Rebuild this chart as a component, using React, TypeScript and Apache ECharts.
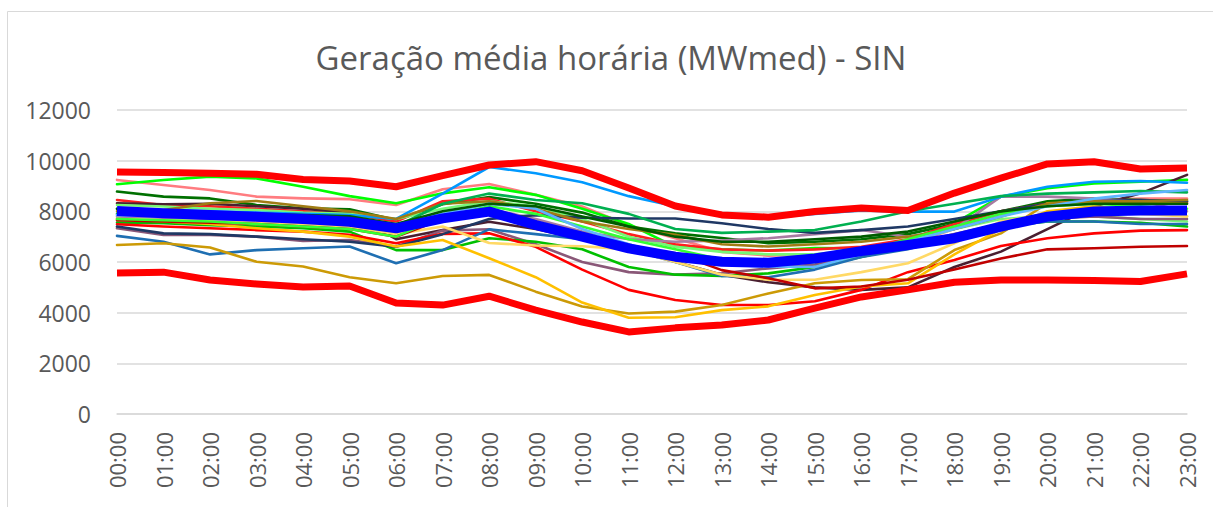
import React, { useEffect, useRef } from "react";
import * as echarts from "echarts";

const hours = [
  "00:00", "01:00", "02:00", "03:00", "04:00", "05:00", "06:00", "07:00",
  "08:00", "09:00", "10:00", "11:00", "12:00", "13:00", "14:00", "15:00",
  "16:00", "17:00", "18:00", "19:00", "20:00", "21:00", "22:00", "23:00",
];

const yTicks = { min: 0, max: 12000, step: 2000 };

const maxValues = [9550, 9530, 9500, 9460, 9260, 9200, 8970, 9410, 9830, 9960, 9600, 8920, 8210, 7860, 7770, 7990, 8130, 8030, 8720, 9310, 9870, 9960, 9670, 9710];
const minValues = [5570, 5600, 5290, 5130, 5010, 5050, 4380, 4300, 4650, 4100, 3630, 3240, 3400, 3510, 3710, 4180, 4620, 4900, 5200, 5290, 5290, 5270, 5230, 5530];
const meanValues = [8010, 7920, 7860, 7790, 7700, 7590, 7330, 7720, 7990, 7460, 7000, 6540, 6210, 6010, 5970, 6140, 6430, 6670, 6940, 7400, 7790, 7990, 8030, 8030];

const day01 = [9240, 9040, 8840, 8580, 8510, 8480, 8250, 8870, 9080, 8650, 8190, 7450, 6940, 6400, 6250, 6300, 6300, 6700, 7300, 7900, 8300, 8450, 8500, 8500];
const day02 = [9070, 9240, 9370, 9300, 8970, 8600, 8320, 8710, 8950, 8650, 8100, 7500, 6600, 6500, 6450, 6550, 6540, 6870, 7530, 8580, 8910, 9100, 9170, 9240];
const day03 = [8780, 8580, 8510, 8250, 8120, 8080, 7660, 8280, 8560, 8300, 7950, 7400, 7130, 6950, 6740, 6800, 6900, 7100, 7500, 8000, 8400, 8500, 8450, 8400];
const day04 = [8450, 8250, 8200, 8100, 8000, 7900, 7600, 8400, 8500, 8000, 7600, 7100, 6700, 6500, 6450, 6500, 6600, 6900, 7500, 8000, 8300, 8400, 8400, 8350];
const day05 = [8320, 8280, 8300, 8200, 8100, 7950, 6900, 7260, 7590, 7300, 6900, 6700, 6010, 5500, 5200, 5000, 4900, 5000, 5800, 6410, 7300, 8190, 8710, 9440];
const day06 = [8250, 8190, 8100, 8050, 7950, 7900, 7700, 8100, 8400, 8200, 7700, 7000, 6600, 6400, 6300, 6300, 6500, 6800, 7300, 7700, 7800, 7800, 7700, 7600];
const day07 = [7790, 7750, 7700, 7650, 7600, 7500, 7200, 7700, 8100, 7700, 7200, 6900, 6800, 6850, 6940, 7100, 7260, 7000, 7300, 8580, 8580, 8500, 8400, 8000];
const day08 = [7330, 7070, 7070, 7000, 6830, 6870, 6610, 7240, 7290, 6700, 6000, 5600, 5500, 5550, 5750, 5900, 6300, 6700, 7100, 7500, 7700, 7800, 7700, 7700];
const day09 = [7560, 7530, 7450, 7400, 7330, 7200, 6470, 6470, 6940, 6800, 6500, 5800, 5500, 5450, 5550, 5800, 6200, 6600, 7000, 7400, 7600, 7600, 7550, 7400];
const day10 = [7490, 7400, 7330, 7260, 7200, 7070, 6740, 7110, 7130, 6600, 5700, 4900, 4500, 4300, 4300, 4450, 4900, 5600, 6080, 6630, 6940, 7130, 7240, 7260];
const day11 = [7400, 7130, 7100, 7000, 6900, 6800, 6600, 7100, 7700, 7850, 7750, 7720, 7720, 7530, 7300, 7150, 7260, 7400, 7700, 8000, 8300, 8400, 8450, 8400];
const day12 = [7030, 6800, 6300, 6470, 6540, 6610, 5950, 6470, 7290, 7100, 6900, 6500, 6000, 5450, 5400, 5700, 6200, 6500, 7000, 7400, 7600, 7600, 7500, 7500];
const day13 = [6670, 6740, 6570, 6010, 5820, 5400, 5160, 5450, 5490, 4830, 4240, 3970, 4040, 4300, 4760, 5160, 5290, 5320, 6470, 7130, 8320, 8400, 8350, 8300];
const day14 = [7700, 7600, 7500, 7330, 7200, 7000, 6610, 6870, 6150, 5400, 4400, 3800, 3820, 4100, 4250, 4700, 5030, 5160, 6300, 7300, 8000, 8200, 8000, 7800];
const day15 = [7700, 7650, 7600, 7550, 7500, 7400, 7100, 7400, 6750, 6650, 6620, 6500, 6000, 5500, 5300, 5300, 5600, 5950, 6740, 7600, 7900, 8000, 7900, 7800];
const day16 = [8100, 8050, 8000, 7950, 7900, 7850, 7700, 8700, 9750, 9500, 9150, 8600, 8200, 7800, 7750, 7900, 8030, 7990, 7990, 8580, 8970, 9170, 9200, 9130];
const day17 = [7650, 7600, 7550, 7500, 7400, 7300, 7000, 7700, 8100, 7600, 7000, 6600, 6340, 5680, 5360, 4960, 5030, 5300, 5700, 6140, 6500, 6540, 6600, 6630];
const day18 = [8000, 8050, 8320, 8410, 8200, 8000, 7700, 8300, 8400, 8100, 7600, 7300, 7070, 6700, 6610, 6700, 6800, 7000, 7300, 7800, 8300, 8400, 8400, 8450];
const day19 = [7900, 7850, 7800, 7750, 7700, 7600, 7400, 8300, 8700, 8450, 8320, 7900, 7300, 7150, 7200, 7260, 7600, 8000, 8300, 8600, 8700, 8750, 8800, 8750];
const day20 = [7700, 7650, 7600, 7500, 7400, 7300, 7000, 7800, 8200, 7900, 7400, 6900, 6500, 6100, 5900, 6000, 6400, 6900, 7400, 7900, 8200, 8300, 8200, 8100];
const day21 = [7850, 7800, 7750, 7700, 7650, 7600, 7500, 7900, 8300, 8100, 7300, 6700, 6200, 5900, 5820, 5800, 6300, 6800, 7300, 7800, 8200, 8500, 8700, 8840];
const day22 = [8100, 8000, 7950, 7900, 7850, 7800, 7500, 8000, 8300, 8200, 7800, 7400, 7000, 6800, 6800, 6900, 7000, 7200, 7600, 8000, 8200, 8300, 8300, 8300];

const dayNames = [
  "Dia 01", "Dia 02", "Dia 03", "Dia 04", "Dia 05", "Dia 06", "Dia 07", "Dia 08",
  "Dia 09", "Dia 10", "Dia 11", "Dia 12", "Dia 13", "Dia 14", "Dia 15", "Dia 16",
  "Dia 17", "Dia 18", "Dia 19", "Dia 20", "Dia 21", "Dia 22",
];
const dayValues = [
  day01, day02, day03, day04, day05, day06, day07, day08, day09, day10, day11,
  day12, day13, day14, day15, day16, day17, day18, day19, day20, day21, day22,
];
const dayColors = [
  "#ff7c80", "#00ff00", "#007000", "#ff1f1f", "#4a1f30", "#77f777", "#a87ca2",
  "#8a5878", "#00c000", "#ff0000", "#1f3864", "#1f6fb2", "#cc9a06", "#ffc000",
  "#ffd966", "#0099ff", "#c00000", "#a07c14", "#00b050", "#33ff33", "#5fb4ff",
  "#005c00",
];

const FONT = "'Open Sans', 'Noto Sans', sans-serif";

export default function App() {
  const ref = useRef<HTMLDivElement>(null);

  useEffect(() => {
    if (!ref.current) return;
    const chart = echarts.init(ref.current, undefined, { renderer: "svg" });

    const thinSeries = dayValues.map((vals, i) => ({
      name: dayNames[i],
      type: "line",
      data: vals,
      symbol: "none",
      lineStyle: { width: 2.6, color: dayColors[i], join: "round", cap: "round" },
      itemStyle: { color: dayColors[i] },
      z: 2,
    }));

    chart.setOption({
      animation: false,
      backgroundColor: "#ffffff",
      graphic: [
        {
          type: "line",
          shape: { x1: 7.5, y1: 11.5, x2: 1213, y2: 11.5 },
          style: { stroke: "#d9d9d9", lineWidth: 1 },
        },
        {
          type: "line",
          shape: { x1: 7.5, y1: 11.5, x2: 7.5, y2: 507 },
          style: { stroke: "#d9d9d9", lineWidth: 1 },
        },
        {
          type: "text",
          x: 611,
          y: 57,
          style: {
            text: "Geração média horária (MWmed) - SIN",
            fill: "#595959",
            font: `33px ${FONT}`,
            align: "center",
            verticalAlign: "middle",
          },
        },
      ],
      grid: { left: 117, right: 26, top: 110, bottom: 93, containLabel: false },
      xAxis: {
        type: "category",
        data: hours,
        boundaryGap: false,
        axisLine: { show: true, lineStyle: { color: "#d9d9d9", width: 1.5 } },
        axisTick: { show: false },
        axisLabel: {
          interval: 0,
          rotate: 90,
          margin: 18,
          fontSize: 22,
          color: "#595959",
          fontFamily: FONT,
        },
        splitLine: { show: false },
      },
      yAxis: {
        type: "value",
        min: yTicks.min,
        max: yTicks.max,
        interval: yTicks.step,
        axisLine: { show: false },
        axisTick: { show: false },
        axisLabel: {
          margin: 26,
          fontSize: 23,
          color: "#595959",
          fontFamily: FONT,
          formatter: (v: number) => String(v),
        },
        splitLine: { show: true, lineStyle: { color: "#d9d9d9", width: 1.5 } },
      },
      series: [
        ...thinSeries,
        {
          name: "Máximo",
          type: "line",
          data: maxValues,
          symbol: "none",
          lineStyle: { width: 7, color: "#ff0000", join: "round" },
          z: 3,
        },
        {
          name: "Mínimo",
          type: "line",
          data: minValues,
          symbol: "none",
          lineStyle: { width: 7, color: "#ff0000", join: "round" },
          z: 3,
        },
        {
          name: "Média",
          type: "line",
          data: meanValues,
          symbol: "none",
          lineStyle: { width: 10, color: "#0000ff", join: "round" },
          z: 4,
        },
      ],
    });

    return () => chart.dispose();
  }, []);

  return (
    <div
      ref={ref}
      style={{ position: "fixed", left: 0, top: 0, width: 1213, height: 507 }}
    />
  );
}
